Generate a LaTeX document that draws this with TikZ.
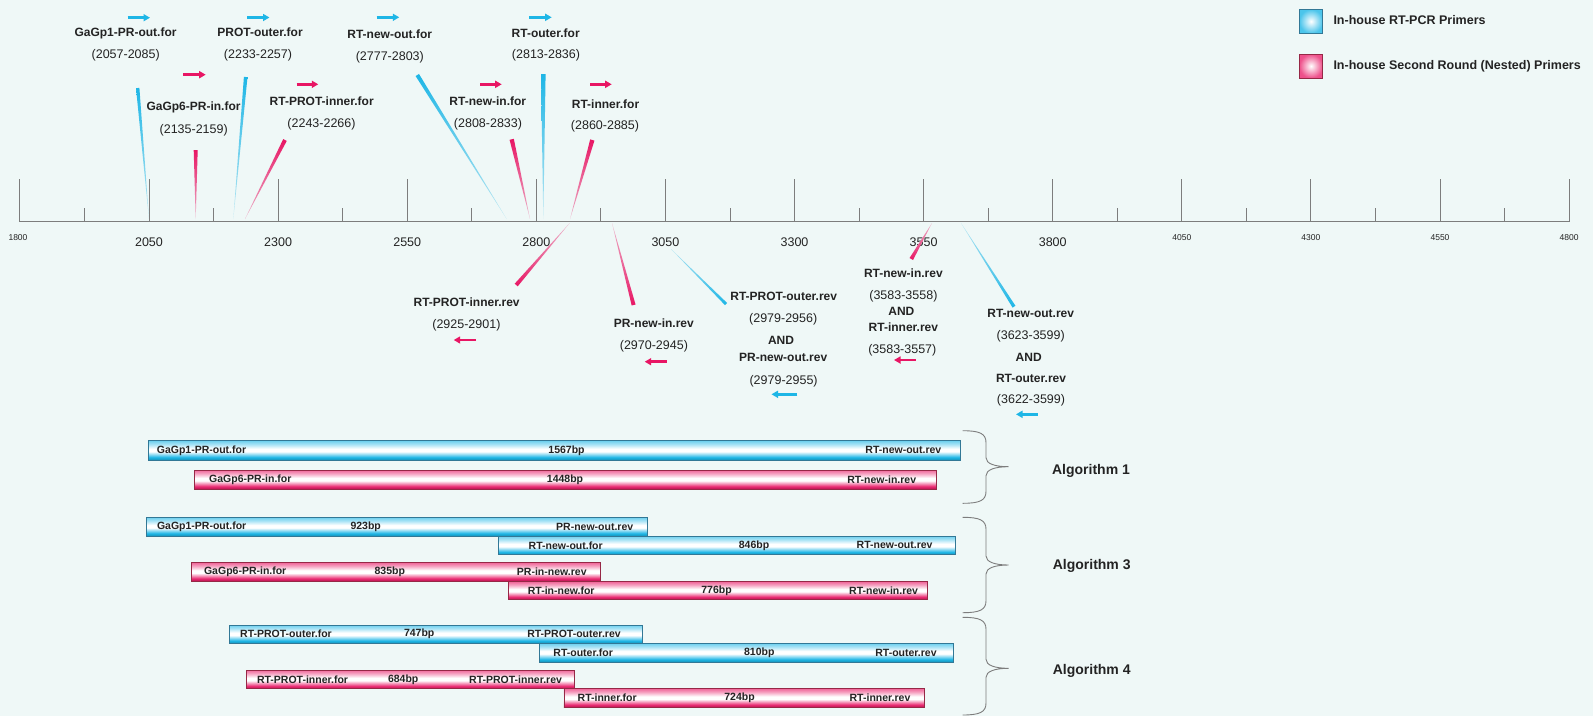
\documentclass[tikz,border=0pt]{standalone}
\usepackage{fontspec}
\setmainfont{Liberation Sans}
\usetikzlibrary{arrows.meta,calc}
\definecolor{bg}{RGB}{239,248,247}
\definecolor{cblue}{RGB}{30,182,230}
\definecolor{cpink}{RGB}{232,22,100}
\definecolor{axg}{RGB}{125,125,125}
\definecolor{txt}{RGB}{35,35,35}
\definecolor{bborder}{RGB}{50,120,150}
\definecolor{pborder}{RGB}{150,40,70}
\pgfdeclareverticalshading{bbarsh}{100bp}{color(0bp)=(cblue!80!black); color(25bp)=(cblue!80!black); color(32bp)=(cblue); color(47bp)=(white); color(54bp)=(white); color(66bp)=(cblue!40!white); color(75bp)=(cblue!65!white); color(100bp)=(cblue!65!white)}
\pgfdeclareverticalshading{pbarsh}{100bp}{color(0bp)=(cpink!80!black); color(25bp)=(cpink!80!black); color(32bp)=(cpink!90!white); color(47bp)=(white); color(54bp)=(white); color(66bp)=(cpink!40!white); color(75bp)=(cpink!65!white); color(100bp)=(cpink!65!white)}
\newcommand\primwedge[4]{\path[#4] ($(#1)!#3!90:(#2)$) -- ($(#1)!#3!-90:(#2)$) -- (#2) -- cycle;}
\newcommand\algbrace[3]{\draw[bracestyle] (962.7,#1) .. controls (980,#1) and (986,#1+3) .. (986,#1+12) -- (986,#2-9) .. controls (986,#2-3) and (995,#2) .. (1008.5,#2) .. controls (995,#2) and (986,#2+3) .. (986,#2+9) -- (986,#3-12) .. controls (986,#3-3) and (980,#3) .. (962.7,#3);}
\tikzset{
  lab/.style={font=\fontsize{12}{14}\selectfont\bfseries, inner sep=0pt, text=txt},
  rng/.style={font=\fontsize{12.5}{14}\selectfont, inner sep=0pt, text=txt},
  ticklab/.style={font=\fontsize{12.5}{14}\selectfont, inner sep=0pt, text=txt},
  smalltick/.style={font=\fontsize{8.5}{10}\selectfont, inner sep=0pt, text=txt},
  barlab/.style={font=\fontsize{10.5}{12}\selectfont\bfseries, inner sep=0pt, text=txt},
  alglab/.style={font=\fontsize{14}{16}\selectfont\bfseries, inner sep=0pt, text=txt},
  leglab/.style={font=\fontsize{12.5}{14}\selectfont\bfseries, inner sep=0pt, text=txt, anchor=west},
  parrow/.style={line width=2.8pt, -{Triangle[length=6.5pt,width=7pt]}},
  bluebar/.style={draw=bborder, line width=0.8pt, shading=bbarsh},
  pinkbar/.style={draw=pborder, line width=0.8pt, shading=pbarsh},
  bracestyle/.style={draw=axg, line width=0.9pt},
  topwedgeB/.style={top color=cblue, bottom color=cblue!25!bg},
  topwedgeP/.style={top color=cpink, bottom color=cpink!30!bg},
  botwedgeB/.style={top color=cblue!30!bg, bottom color=cblue},
  botwedgeP/.style={top color=cpink!30!bg, bottom color=cpink},
}
\begin{document}
\begin{tikzpicture}[x=1pt,y=-1pt]
\fill[bg] (0,0) rectangle (1593,716);
\useasboundingbox (0,0) rectangle (1593,716);

% axis
\draw[axg, line width=1.3pt] (19.9,221.7) -- (1569,221.7);
\foreach \i in {0,...,12}{
  \pgfmathsetmacro\xx{19.9+129.1*\i}
  \draw[axg, line width=0.9pt] (\xx,221.7) -- (\xx,179);
}
\foreach \i in {0,...,11}{
  \pgfmathsetmacro\xx{19.9+129.1*\i+64.55}
  \draw[axg, line width=0.9pt] (\xx,221.7) -- (\xx,208);
}
\node[smalltick] (t1800) at (18,237.5) {1800};
\foreach \v [count=\i] in {2050,2300,2550,2800,3050,3300,3550,3800}{
  \pgfmathsetmacro\xx{19.9+129.1*\i}
  \node[ticklab] (t\v) at (\xx,242) {\v};
}
\foreach \v [count=\i from 9] in {4050,4300,4550,4800}{
  \pgfmathsetmacro\xx{19.9+129.1*\i}
  \node[smalltick] (t\v) at (\xx,237.5) {\v};
}

% legend
\path[draw=bborder, line width=0.8pt, inner color=white, outer color=cblue!80!white] (1299.3,9.3) rectangle (1322.7,33.3);
\node[leglab] (leg1) at (1333.3,20.5) {In-house RT-PCR Primers};
\path[draw=pborder, line width=0.8pt, inner color=white, outer color=cpink!75!white] (1299.3,54) rectangle (1322.7,78);
\node[leglab] (leg2) at (1333.3,66) {In-house Second Round (Nested) Primers};

% forward primers, row 1 (blue)
\draw[parrow, cblue] (127.7,17.7) -- (150,17.7);
\node[lab] (f1) at (125.5,33) {GaGp1-PR-out.for};
\node[rng] (f1r) at (125.7,55.3) {(2057-2085)};
\draw[parrow, cblue] (247,17.5) -- (269.5,17.5);
\node[lab] (f3) at (260,32.5) {PROT-outer.for};
\node[rng] (f3r) at (258,55.3) {(2233-2257)};
\draw[parrow, cblue] (376.7,17.3) -- (399.3,17.3);
\node[lab] (f5) at (389.7,34.3) {RT-new-out.for};
\node[rng] (f5r) at (389.8,57.3) {(2777-2803)};
\draw[parrow, cblue] (529.3,17.3) -- (551.7,17.3);
\node[lab] (f7) at (545.7,33.3) {RT-outer.for};
\node[rng] (f7r) at (546,55.7) {(2813-2836)};

% forward primers, row 2 (pink)
\draw[parrow, cpink] (183,74.7) -- (205.7,74.7);
\node[lab] (f2) at (193.5,107.3) {GaGp6-PR-in.for};
\node[rng] (f2r) at (193.7,130) {(2135-2159)};
\draw[parrow, cpink] (296.7,84.3) -- (318.3,84.3);
\node[lab] (f4) at (321.7,101) {RT-PROT-inner.for};
\node[rng] (f4r) at (321.5,124) {(2243-2266)};
\draw[parrow, cpink] (480,84.3) -- (501.7,84.3);
\node[lab] (f6) at (487.8,101) {RT-new-in.for};
\node[rng] (f6r) at (488,124) {(2808-2833)};
\draw[parrow, cpink] (590,84.3) -- (611.7,84.3);
\node[lab] (f8) at (605.5,104) {RT-inner.for};
\node[rng] (f8r) at (605,126) {(2860-2885)};

% wedge end points
\coordinate (w1a) at (137.7,88);   \coordinate (w1b) at (149,219);
\coordinate (w2a) at (195.7,150);  \coordinate (w2b) at (195.7,219);
\coordinate (w3a) at (245.7,77);   \coordinate (w3b) at (233.3,219);
\coordinate (w4a) at (285,140);    \coordinate (w4b) at (245,219);
\coordinate (w5a) at (417.3,75);   \coordinate (w5b) at (506.7,219);
\coordinate (w6a) at (511.7,139.3);\coordinate (w6b) at (530,219);
\coordinate (w7a) at (543.3,74);   \coordinate (w7b) at (543.3,219);
\coordinate (w8a) at (592.3,140);  \coordinate (w8b) at (570,219);
\coordinate (w9a) at (516.2,285);  \coordinate (w9b) at (569.7,223);
\coordinate (w10a) at (633.6,305); \coordinate (w10b) at (612,223);
\coordinate (w11a) at (726,304);   \coordinate (w11b) at (671,249);
\coordinate (w12a) at (911.3,259); \coordinate (w12b) at (932,223);
\coordinate (w13a) at (1014,306.7);\coordinate (w13b) at (961,223);

\primwedge{w1a}{w1b}{1.7pt}{topwedgeB}
\primwedge{w2a}{w2b}{2pt}{topwedgeP}
\primwedge{w3a}{w3b}{1.8pt}{topwedgeB}
\primwedge{w4a}{w4b}{2pt}{topwedgeP}
\primwedge{w5a}{w5b}{2pt}{topwedgeB}
\primwedge{w6a}{w6b}{2.2pt}{topwedgeP}
\primwedge{w7a}{w7b}{2.3pt}{topwedgeB}
\primwedge{w8a}{w8b}{2.2pt}{topwedgeP}
\primwedge{w9a}{w9b}{2pt}{botwedgeP}
\primwedge{w10a}{w10b}{2pt}{botwedgeP}
\primwedge{w11a}{w11b}{1.5pt}{botwedgeB}
\primwedge{w12a}{w12b}{2pt}{botwedgeP}
\primwedge{w13a}{w13b}{1.7pt}{botwedgeB}

% reverse primers
\node[lab] (r1) at (466.6,302.7) {RT-PROT-inner.rev};
\node[rng] (r1r) at (466.4,325.3) {(2925-2901)};
\draw[parrow, cpink] (476,340) -- (453.7,340);

\node[lab] (r2) at (653.8,323.3) {PR-new-in.rev};
\node[rng] (r2r) at (653.9,346.7) {(2970-2945)};
\draw[parrow, cpink] (666.6,361.7) -- (644.7,361.7);

\node[lab] (r3) at (783.7,296.7) {RT-PROT-outer.rev};
\node[rng] (r3r) at (783.2,319.3) {(2979-2956)};
\node[lab] (r3and) at (781,340) {AND};
\node[lab] (r3b) at (783.2,357.7) {PR-new-out.rev};
\node[rng] (r3br) at (783.6,381) {(2979-2955)};
\draw[parrow, cblue] (797.4,394.3) -- (771.5,394.3);

\node[lab] (r4) at (903.4,273.3) {RT-new-in.rev};
\node[rng] (r4r) at (903.4,296) {(3583-3558)};
\node[lab] (r4and) at (901.4,311.7) {AND};
\node[lab] (r4b) at (903.4,327.7) {RT-inner.rev};
\node[rng] (r4br) at (902.3,350) {(3583-3557)};
\draw[parrow, cpink] (915.7,360) -- (894,360);

\node[lab] (r5) at (1030.7,313.3) {RT-new-out.rev};
\node[rng] (r5r) at (1030.7,336) {(3623-3599)};
\node[lab] (r5and) at (1028.7,357.7) {AND};
\node[lab] (r5b) at (1031,378.3) {RT-outer.rev};
\node[rng] (r5br) at (1031,400) {(3622-3599)};
\draw[parrow, cblue] (1037.6,414.3) -- (1016,414.3);

% amplicon bars: Algorithm 1
\path[bluebar] (148.7,440.7) rectangle (960.2,460);
\node[barlab, anchor=west] (a1b1) at (156.7,450.3) {GaGp1-PR-out.for};
\node[barlab] (a1b2) at (566.5,450.3) {1567bp};
\node[barlab, anchor=east] (a1b3) at (941.5,450.3) {RT-new-out.rev};
\path[pinkbar] (194.3,470) rectangle (936,489);
\node[barlab, anchor=west] (a1p1) at (209,479.5) {GaGp6-PR-in.for};
\node[barlab] (a1p2) at (565,479.5) {1448bp};
\node[barlab, anchor=east] (a1p3) at (916.3,479.5) {RT-new-in.rev};

% Algorithm 3
\path[bluebar] (146,517.3) rectangle (646.9,536);
\node[barlab, anchor=west] (a3b1) at (156.8,526.7) {GaGp1-PR-out.for};
\node[barlab] (a3b2) at (365.7,526.7) {923bp};
\node[barlab] (a3b3) at (594.7,526.7) {PR-new-out.rev};
\path[bluebar] (498.5,536) rectangle (954.9,554.7);
\node[barlab] (a3c1) at (565.7,545.3) {RT-new-out.for};
\node[barlab] (a3c2) at (754,545.3) {846bp};
\node[barlab] (a3c3) at (894.6,545.3) {RT-new-out.rev};
\path[pinkbar] (191.6,562.7) rectangle (600.3,581);
\node[barlab] (a3p1) at (245.2,571.8) {GaGp6-PR-in.for};
\node[barlab] (a3p2) at (389.8,571.8) {835bp};
\node[barlab] (a3p3) at (551.8,571.8) {PR-in-new.rev};
\path[pinkbar] (508.2,581.7) rectangle (927,599.3);
\node[barlab] (a3q1) at (561.2,590.5) {RT-in-new.for};
\node[barlab] (a3q2) at (716.5,590.5) {776bp};
\node[barlab] (a3q3) at (883.6,590.5) {RT-new-in.rev};

% Algorithm 4
\path[bluebar] (229,625) rectangle (642.6,643.3);
\node[barlab] (a4b1) at (286,634) {RT-PROT-outer.for};
\node[barlab] (a4b2) at (419.2,634) {747bp};
\node[barlab] (a4b3) at (574,634) {RT-PROT-outer.rev};
\path[bluebar] (539.8,643.3) rectangle (953.2,662);
\node[barlab] (a4c1) at (583.2,652.7) {RT-outer.for};
\node[barlab] (a4c2) at (759.3,652.7) {810bp};
\node[barlab] (a4c3) at (906,652.7) {RT-outer.rev};
\path[pinkbar] (246.8,670) rectangle (574.6,688.7);
\node[barlab] (a4p1) at (302.5,679.3) {RT-PROT-inner.for};
\node[barlab] (a4p2) at (403.2,679.3) {684bp};
\node[barlab] (a4p3) at (515.6,679.3) {RT-PROT-inner.rev};
\path[pinkbar] (563.9,688.7) rectangle (924.3,707.3);
\node[barlab] (a4q1) at (607.2,698) {RT-inner.for};
\node[barlab] (a4q2) at (739.5,698) {724bp};
\node[barlab] (a4q3) at (880,698) {RT-inner.rev};

% braces and algorithm labels
\algbrace{430.7}{466.7}{503.3}
\algbrace{517.3}{565}{612.7}
\algbrace{617.3}{668.3}{715}
\node[alglab] (alg1) at (1091,470.7) {Algorithm 1};
\node[alglab] (alg3) at (1091.7,565.7) {Algorithm 3};
\node[alglab] (alg4) at (1091.7,670.7) {Algorithm 4};
\end{tikzpicture}
\end{document}
